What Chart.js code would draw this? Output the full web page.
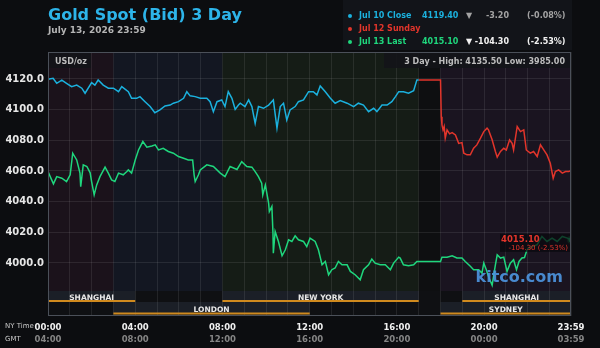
<!DOCTYPE html>
<html>
<head>
<meta charset="utf-8">
<script src="https://cdn.jsdelivr.net/npm/chart.js@4.4.1/dist/chart.umd.min.js"></script>
<style>
  html, body { margin: 0; padding: 0; background: #0c0d10; }
  #wrap { position: relative; width: 600px; height: 348px; overflow: hidden; font-family: "DejaVu Sans", sans-serif; }
  #chart { position: absolute; left: 0; top: 0; }
  .t { position: absolute; white-space: nowrap; font-weight: bold; }
  .lg { position: absolute; left: 343px; top: 0; width: 229px; height: 50px; background: #121419; }
  .dot { position: absolute; width: 4px; height: 4px; border-radius: 2px; left: 348px; }
  .box { position: absolute; background: rgba(19,20,24,0.9); }
</style>
</head>
<body>
<div id="wrap">
  <canvas id="chart" width="600" height="348"></canvas>
  <div class="lg"></div>
  <div class="t" id="title" style="left:48px; top:7px; font-size:16px; line-height:16px; color:#2db4e9;"></div>
  <div class="t" id="sub" style="left:48px; top:26px; font-size:9px; line-height:9px; color:#b5b5b5;"></div>
  <div class="box" style="left:49px; top:53px; width:42px; height:15px;"></div>
  <div class="box" style="left:384px; top:53px; width:186px; height:15px;"></div>
  <div class="t" id="unit" style="left:55px; top:58px; font-size:8px; line-height:8px; color:#bdbdbd;"></div>
  <div class="t" id="range" style="right:35px; top:58px; font-size:8px; line-height:8px; color:#bdbdbd;"></div>
  <div class="t" style="left:5px; top:323px; font-size:7px; line-height:7px; font-weight:normal; color:#c8c8c8;">NY Time</div>
  <div class="t" style="left:5px; top:335.5px; font-size:7px; line-height:7px; font-weight:normal; color:#c8c8c8;">GMT</div>
  <div id="legend"></div>
</div>
<script>
// minutes after 00:00 NY time, and bid price
const jul10Times = [0, 14, 24, 38, 51, 65, 79, 93, 102, 120, 129, 138, 152, 166, 180, 194, 203, 221, 230, 244, 253, 267, 281, 294, 308, 322, 336, 345, 359, 373, 382, 391, 405, 419, 437, 446, 455, 465, 478, 487, 496, 506, 515, 524, 529, 542, 552, 561, 570, 579, 593, 607, 620, 630, 639, 648, 657, 666, 680, 689, 703, 717, 730, 740, 749, 763, 777, 790, 804, 823, 841, 854, 868, 882, 896, 905, 919, 933, 946, 956, 965, 978, 992, 1006, 1015, 1020];
const jul10Values = [4119.8, 4120.4, 4117.2, 4119.3, 4117.2, 4115.0, 4116.0, 4114.0, 4110.7, 4117.6, 4116.0, 4119.3, 4116.0, 4114.0, 4114.0, 4111.7, 4115.0, 4111.7, 4107.4, 4107.4, 4108.5, 4105.2, 4102.0, 4098.0, 4099.8, 4102.4, 4103.0, 4104.2, 4105.2, 4107.4, 4111.7, 4109.0, 4108.5, 4107.4, 4107.4, 4105.2, 4098.7, 4105.2, 4106.3, 4102.0, 4111.7, 4107.4, 4100.2, 4103.0, 4104.2, 4102.0, 4106.3, 4102.0, 4091.1, 4102.0, 4100.9, 4103.0, 4106.3, 4087.9, 4102.0, 4104.2, 4093.3, 4099.8, 4102.0, 4105.2, 4106.3, 4111.7, 4111.7, 4109.6, 4115.4, 4111.7, 4107.4, 4104.2, 4105.9, 4104.2, 4102.0, 4104.2, 4103.0, 4098.7, 4100.9, 4098.7, 4103.0, 4103.0, 4105.2, 4108.5, 4111.7, 4111.7, 4110.7, 4112.4, 4119.4, 4119.4];

const jul12Times = [1020, 1080, 1082, 1084, 1087, 1090, 1093, 1098, 1105, 1112, 1121, 1130, 1139, 1144, 1153, 1162, 1171, 1180, 1190, 1199, 1208, 1212, 1222, 1231, 1236, 1245, 1254, 1261, 1270, 1277, 1281, 1291, 1300, 1309, 1316, 1327, 1336, 1346, 1355, 1364, 1373, 1382, 1390, 1396, 1405, 1415, 1424, 1433, 1439];
const jul12Values = [4119.4, 4119.4, 4095.4, 4090.0, 4086.8, 4089.0, 4081.4, 4086.8, 4084.2, 4085.0, 4083.5, 4078.0, 4078.5, 4071.6, 4070.5, 4070.5, 4074.8, 4077.0, 4081.4, 4085.7, 4087.9, 4086.8, 4080.3, 4072.7, 4069.0, 4072.7, 4074.8, 4073.7, 4080.3, 4078.0, 4073.7, 4089.0, 4085.7, 4086.8, 4073.7, 4071.6, 4072.7, 4069.4, 4077.0, 4073.7, 4070.5, 4065.0, 4055.3, 4059.6, 4060.7, 4058.6, 4059.6, 4059.6, 4060.3];

const jul13Times = [0, 15, 24, 38, 51, 61, 68, 79, 88, 90, 97, 107, 116, 120, 127, 134, 143, 157, 166, 175, 184, 194, 207, 217, 221, 230, 240, 249, 261, 272, 286, 295, 304, 317, 331, 345, 359, 373, 386, 398, 402, 405, 414, 419, 437, 455, 474, 487, 501, 520, 533, 547, 561, 570, 579, 588, 591, 598, 607, 609, 616, 619, 620, 625, 634, 644, 653, 662, 671, 680, 689, 703, 712, 721, 735, 744, 754, 763, 772, 781, 790, 799, 809, 823, 832, 845, 859, 868, 882, 891, 900, 914, 928, 942, 951, 965, 969, 978, 992, 1006, 1015, 1080, 1084, 1098, 1112, 1125, 1139, 1148, 1162, 1171, 1185, 1194, 1199, 1206, 1212, 1222, 1231, 1236, 1245, 1254, 1263, 1272, 1281, 1289, 1296, 1304, 1311, 1318, 1322, 1346, 1359, 1373, 1387, 1401, 1415, 1429, 1439];
const jul13Values = [4059.6, 4051.6, 4056.3, 4055.3, 4053.1, 4057.5, 4071.6, 4067.2, 4058.6, 4049.8, 4064.0, 4062.9, 4058.8, 4053.1, 4044.4, 4050.9, 4056.3, 4062.5, 4058.6, 4054.2, 4053.1, 4058.6, 4057.5, 4059.6, 4060.7, 4058.6, 4067.2, 4073.7, 4079.2, 4075.5, 4076.3, 4077.0, 4073.7, 4074.8, 4072.7, 4071.6, 4069.4, 4068.3, 4067.2, 4067.2, 4057.5, 4053.1, 4057.5, 4060.7, 4064.0, 4062.9, 4058.6, 4056.3, 4062.9, 4061.0, 4066.1, 4062.9, 4062.5, 4059.6, 4056.3, 4052.0, 4044.4, 4050.9, 4039.0, 4033.5, 4036.8, 4019.5, 4006.4, 4020.5, 4014.0, 4004.7, 4008.6, 4015.1, 4014.0, 4017.7, 4015.1, 4014.0, 4010.7, 4016.2, 4014.0, 4008.6, 3998.8, 4001.0, 3992.3, 3995.6, 3996.7, 4001.0, 3998.8, 3998.8, 3994.5, 3992.3, 3989.0, 3995.6, 3998.8, 4002.5, 3999.9, 3998.8, 3998.8, 3995.6, 3999.9, 4003.8, 4003.2, 3998.8, 3998.2, 3998.8, 4001.0, 4001.0, 4003.8, 4003.8, 4004.7, 4003.2, 4003.2, 4001.0, 3997.8, 3995.6, 3995.6, 3993.4, 3999.9, 3995.6, 3991.2, 3985.5, 3998.8, 4005.3, 4003.2, 4003.8, 3994.5, 3999.9, 4002.1, 3995.6, 4001.0, 4003.2, 4003.5, 4008.6, 4009.7, 4011.9, 4017.3, 4014.0, 4016.2, 4014.0, 4017.3, 4016.2, 4015.1];

const yTicks = [4000, 4020, 4040, 4060, 4080, 4100, 4120];
const timeTicks = [0, 240, 480, 720, 960, 1200, 1439];
const nyLabels = ['00:00', '04:00', '08:00', '12:00', '16:00', '20:00', '23:59'];
const gmtLabels = ['04:00', '08:00', '12:00', '16:00', '20:00', '00:00', '03:59'];

// background shading by trading session
const shadeStarts = [0, 180, 480, 1020, 1080];
const shadeEnds = [180, 480, 1020, 1080, 1439];
const shadeColors = ['#1b121b', '#131722', '#151c16', '#0e0f11', '#1a1420'];

// session bars under the plot
const bandNames = ['SHANGHAI', 'NEW YORK', 'SHANGHAI', 'LONDON', 'SYDNEY'];
const bandStarts = [0, 480, 1140, 180, 1080];
const bandEnds = [240, 1020, 1439, 720, 1439];
const bandRows = [0, 0, 0, 1, 1];

const legendLabels = ['Jul 10 Close', 'Jul 12 Sunday', 'Jul 13 Last'];
const legendPrices = ['4119.40', '', '4015.10'];
const legendChanges = ['-3.20', '', '-104.30'];
const legendPercents = ['(-0.08%)', '', '(-2.53%)'];
const lineColors = ['#1bb1de', '#e2352b', '#1fd67d'];

document.getElementById('title').textContent = 'Gold Spot (Bid) 3 Day';
document.getElementById('sub').textContent = 'July 13, 2026 23:59';
document.getElementById('unit').textContent = 'USD/oz';
document.getElementById('range').textContent = '3 Day - High: 4135.50  Low: 3985.00';

const legend = document.getElementById('legend');
const rowTops = [11.5, 24.7, 38];
legendLabels.forEach((label, i) => {
    const top = rowTops[i];
    const dim = i === 0 ? '#a3a3a3' : '#f2f2f2';
    let html = '<div class="dot" style="top:' + (top + 2) + 'px;background:' + lineColors[i] + '"></div>';
    html += '<div class="t" style="left:359px;top:' + top + 'px;font-size:8px;line-height:8px;color:' + lineColors[i] + '">' + label + '</div>';
    if (legendPrices[i]) {
        html += '<div class="t" style="left:422px;top:' + top + 'px;font-size:8px;line-height:8px;color:' + lineColors[i] + '">' + legendPrices[i] + '</div>';
        html += '<div class="t" style="left:466px;top:' + top + 'px;font-size:8px;line-height:8px;color:' + dim + '">\u25BC</div>';
        html += '<div class="t" style="right:91px;top:' + top + 'px;font-size:8px;line-height:8px;color:' + dim + '">' + legendChanges[i] + '</div>';
        html += '<div class="t" style="right:34.5px;top:' + top + 'px;font-size:8px;line-height:8px;color:' + dim + '">' + legendPercents[i] + '</div>';
    }
    legend.insertAdjacentHTML('beforeend', html);
});

function points(times, values) {
    return times.map((t, i) => ({ x: t, y: values[i] }))
}

const sessionPlugin = {
    id: 'sessions',
    beforeDraw(chart) {
        const { ctx, chartArea: a, scales: { x } } = chart;
        const bandTop = a.bottom - 25;
        ctx.save();
        shadeStarts.forEach((s, i) => {
            const x0 = x.getPixelForValue(s);
            const x1 = x.getPixelForValue(shadeEnds[i]);
            ctx.fillStyle = shadeColors[i];
            ctx.fillRect(x0, a.top, x1 - x0, bandTop - a.top);
        });
        ctx.fillStyle = '#0f1013';
        ctx.fillRect(a.left, bandTop, a.width, a.bottom - bandTop);
        bandNames.forEach((n, i) => {
            const x0 = x.getPixelForValue(bandStarts[i]);
            const x1 = x.getPixelForValue(bandEnds[i]);
            ctx.fillStyle = '#1b1f27';
            if (bandRows[i] === 0) ctx.fillRect(x0, bandTop, x1 - x0, 11);
            else ctx.fillRect(x0, bandTop + 11, x1 - x0, 12.5);
        });
        ctx.restore();
    },
    afterDatasetsDraw(chart) {
        const { ctx, chartArea: a, scales: { x, y } } = chart;
        const n = jul13Times.length - 1;
        const px = x.getPixelForValue(jul13Times[n]);
        const py = y.getPixelForValue(jul13Values[n]);
        ctx.save();
        ctx.fillStyle = 'rgba(8,9,12,0.72)';
        ctx.fillRect(px - 71, py - 6, 70, 18);
        ctx.fillStyle = lineColors[1];
        ctx.textBaseline = 'middle';
        ctx.textAlign = 'left';
        ctx.font = 'bold 8.5px "DejaVu Sans"';
        ctx.fillText(legendPrices[2], px - 70, py);
        ctx.font = '7px "DejaVu Sans"';
        ctx.textAlign = 'right';
        ctx.fillText(legendChanges[2] + ' ' + legendPercents[2], px - 3, py + 8);

        ctx.font = 'bold 16px "DejaVu Sans"';
        ctx.fillStyle = 'rgba(78,150,225,0.9)';
        ctx.textBaseline = 'alphabetic';
        ctx.fillText('kitco.com', a.right - 8, a.bottom - 34);
        ctx.restore();
    },
    afterDraw(chart) {
        const { ctx, chartArea: a, scales: { x } } = chart;
        const bandTop = a.bottom - 25;
        ctx.save();
        ctx.font = 'bold 7.5px "DejaVu Sans"';
        ctx.textAlign = 'center';
        ctx.textBaseline = 'alphabetic';
        bandNames.forEach((n, i) => {
            const x0 = x.getPixelForValue(bandStarts[i]);
            const x1 = x.getPixelForValue(bandEnds[i]);
            const row = bandRows[i];
            ctx.fillStyle = '#d08a1e';
            ctx.fillRect(x0, row === 0 ? bandTop + 9 : bandTop + 21.5, x1 - x0, 2);
            ctx.fillStyle = '#e8e8e8';
            ctx.fillText(n, (x0 + x1) / 2, row === 0 ? bandTop + 8.5 : bandTop + 20.5);
        });
        ctx.strokeStyle = '#4b5059';
        ctx.lineWidth = 1;
        ctx.strokeRect(a.left + 0.5, a.top + 0.5, a.width - 1, a.height - 1);
        ctx.restore();
    }
};

const gridColor = 'rgba(255,255,255,0.085)';
Chart.defaults.font.family = '"DejaVu Sans", sans-serif';

new Chart(document.getElementById('chart'), {
    type: 'line',
    data: {
        datasets: [
            { label: legendLabels[0], data: points(jul10Times, jul10Values), borderColor: lineColors[0], borderWidth: 1.5, pointRadius: 0 },
            { label: legendLabels[1], data: points(jul12Times, jul12Values), borderColor: lineColors[1], borderWidth: 1.5, pointRadius: 0 },
            {
                label: legendLabels[2], data: points(jul13Times, jul13Values), borderColor: lineColors[2], borderWidth: 1.5,
                pointRadius: (c) => c.dataIndex === jul13Times.length - 1 ? 2.5 : 0,
                pointBackgroundColor: '#3cf29c', pointBorderColor: 'rgba(31,214,125,0.35)', pointBorderWidth: 3
            }
        ]
    },
    options: {
        responsive: false,
        animation: false,
        layout: { padding: { left: 0, right: 29, top: 52, bottom: 0 } },
        elements: { line: { tension: 0 } },
        plugins: { legend: { display: false }, tooltip: { enabled: false } },
        scales: {
            x: {
                type: 'linear', min: 0, max: 1439,
                afterFit: (s) => { s.height = 17 },
                afterBuildTicks: (s) => {
                    const t = []
                    for (let m = 0; m < 1439; m += 60) t.push({ value: m })
                    t.push({ value: 1439 })
                    s.ticks = t
                },
                grid: { color: gridColor, drawTicks: false },
                border: { display: false },
                ticks: {
                    autoSkip: false, maxRotation: 0, padding: 7, color: '#f0f0f0',
                    font: { size: 8.5, weight: 'bold' },
                    callback: (v) => { const i = timeTicks.indexOf(v); return i >= 0 ? nyLabels[i] : '' }
                }
            },
            x2: {
                axis: 'x', type: 'linear', position: 'bottom', min: 0, max: 1439,
                afterFit: (s) => { s.height = 15 },
                afterBuildTicks: (s) => { s.ticks = timeTicks.map(v => ({ value: v })) },
                grid: { display: false, drawTicks: false },
                border: { display: false },
                ticks: {
                    autoSkip: false, maxRotation: 0, padding: 2, color: '#858585',
                    font: { size: 8.5, weight: 'bold' },
                    callback: (v) => gmtLabels[timeTicks.indexOf(v)]
                }
            },
            y: {
                min: 3965.4, max: 4137.6,
                afterFit: (s) => { s.width = 48 },
                afterBuildTicks: (s) => { s.ticks = yTicks.map(v => ({ value: v })) },
                grid: { color: gridColor, drawTicks: false },
                border: { display: false },
                ticks: { padding: 4, color: '#e6e6e6', font: { size: 10, weight: 'bold' }, callback: (v) => v.toFixed(1) }
            }
        }
    },
    plugins: [sessionPlugin]
});
</script>
</body>
</html>
